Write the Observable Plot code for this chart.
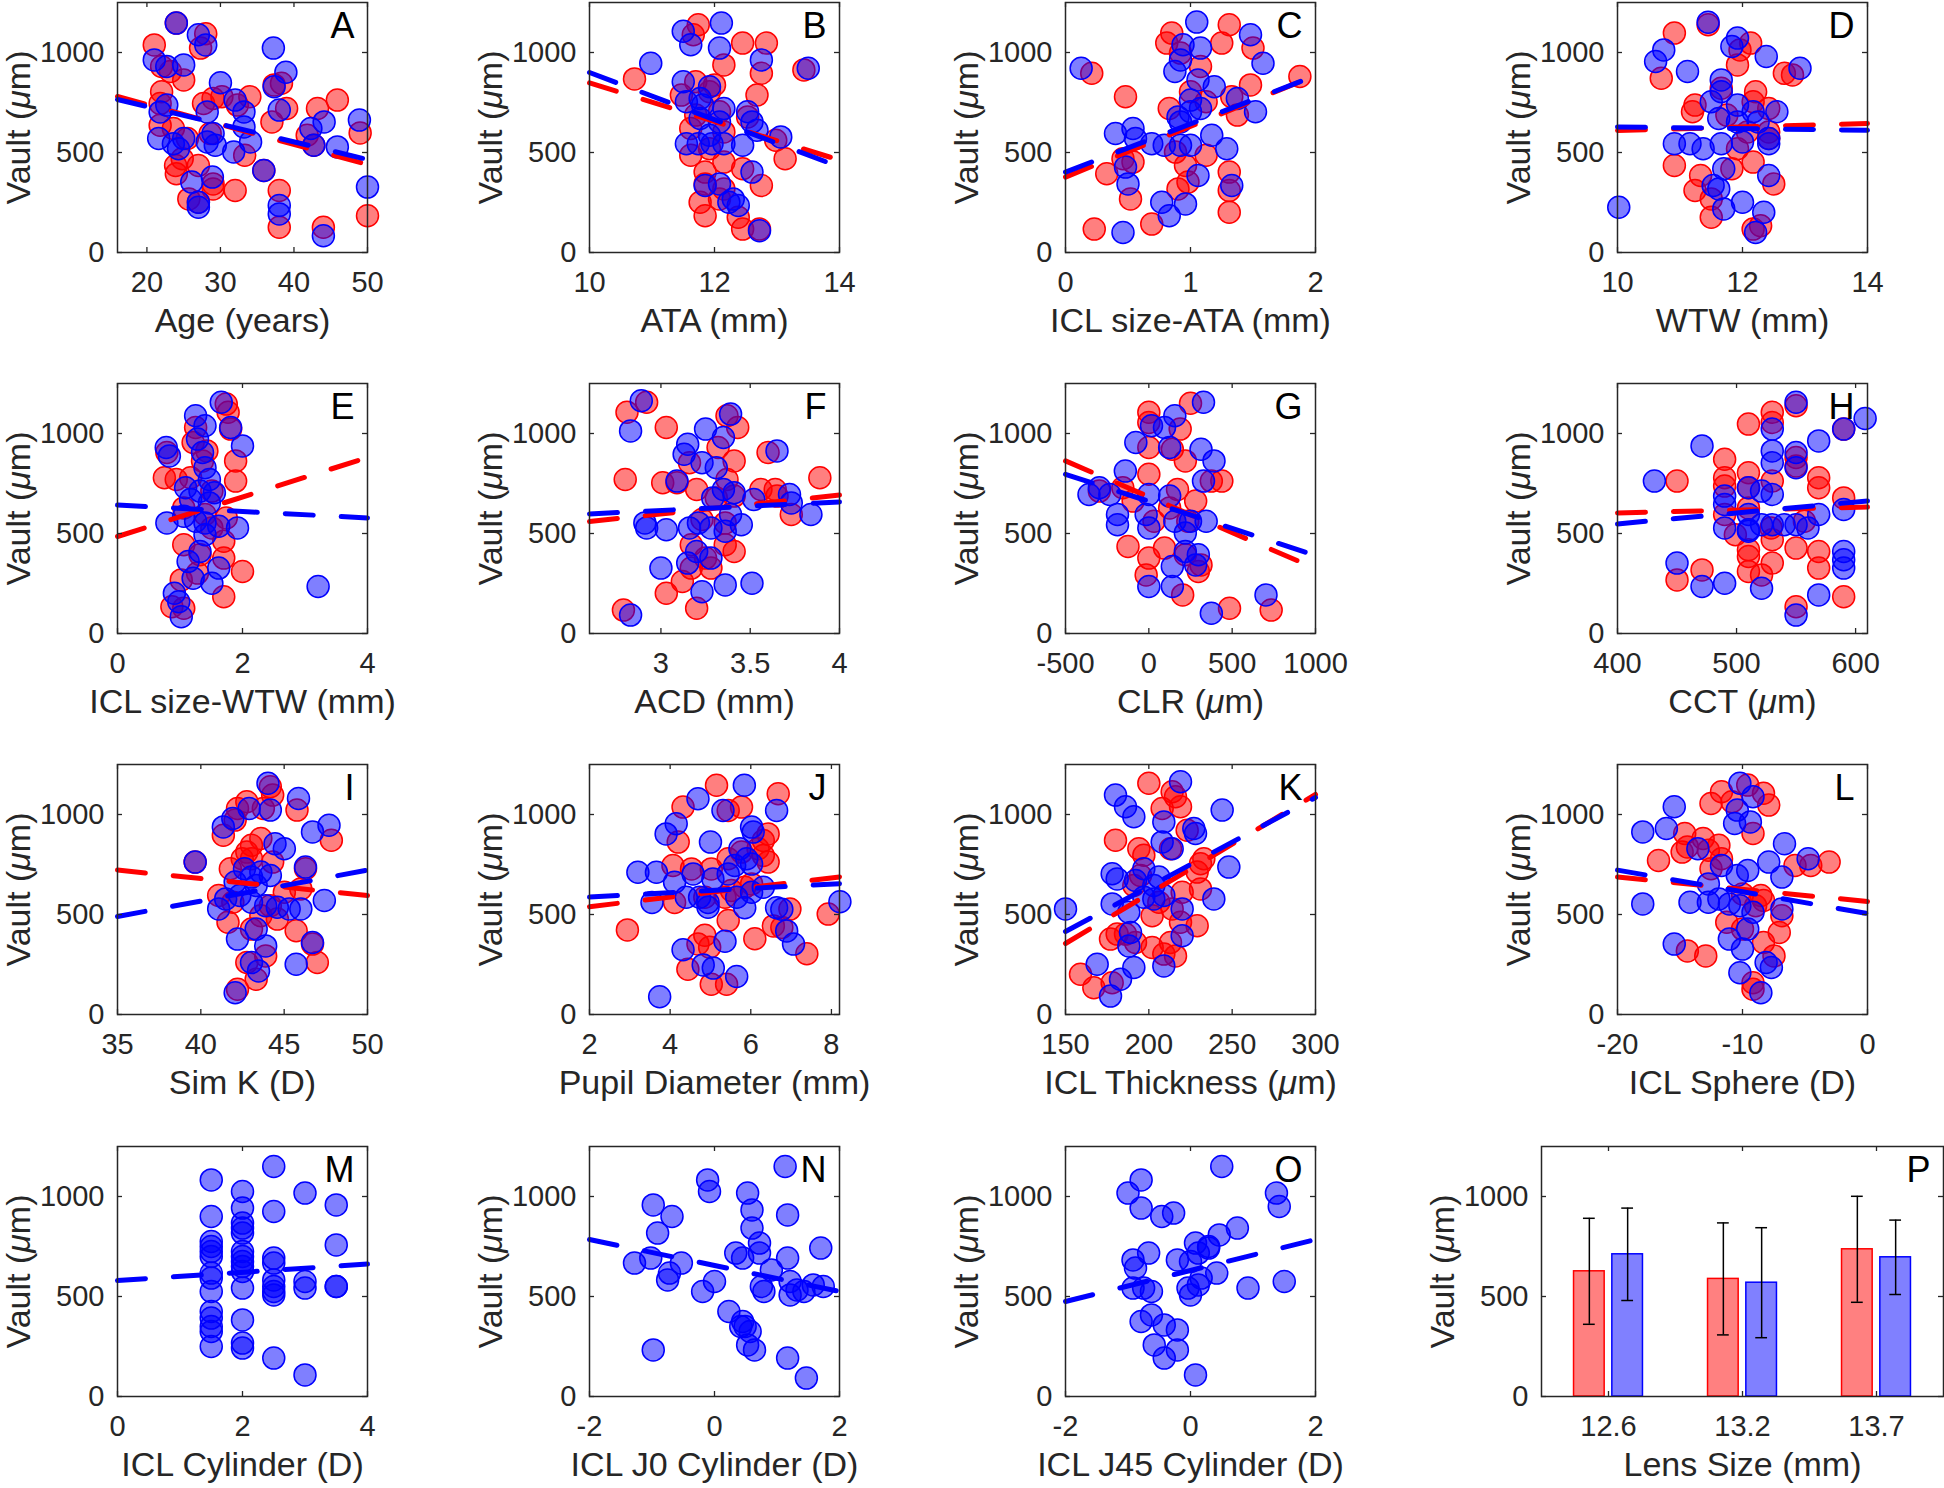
<!DOCTYPE html>
<html><head><meta charset="utf-8">
<script src="https://cdn.jsdelivr.net/npm/d3@7"></script>
<script src="https://cdn.jsdelivr.net/npm/@observablehq/plot@0.6"></script>
<style>
body{margin:0;background:#fff;}
#fig{position:relative;width:1944px;height:1488px;overflow:hidden;background:#fff;}
#fig svg{position:absolute;overflow:visible;background:transparent;}
</style></head><body><div id="fig"></div>
<script>
// ---------- DATA (Vault in µm vs. parameters; red = group 1, blue = group 2) ----------
const yTicks = [0, 500, 1000];

const ageRed = [[24,1147],[28,1094],[21,1038],[27.3,1022],[22,930],[23.2,905],[25,863],[22,804],[21.8,745],[29,770],[30.2,779],[34,779],[32.3,737],[27.7,745],[21.8,636],[23.6,620],[37.3,838],[38.3,846],[37,653],[39,720],[43.2,720],[45.9,762],[49,598],[41.8,586],[24.8,469],[23.9,435],[24,394],[27,435],[29,343],[29,318],[32,310],[25.7,268],[27,251],[33.3,486],[35.9,410],[38,310],[38,126],[44,126],[50,184],[42.7,536],[28.6,595],[25.5,570]];
const ageBlue = [[24,1147],[27,1089],[28,1038],[21,963],[22.7,930],[25,938],[30,849],[38.9,901],[37.2,1022],[37.3,829],[38,712],[32,762],[33.2,703],[33.2,628],[34.1,553],[31.8,503],[28.2,703],[29,595],[28.2,553],[29.3,536],[22.7,737],[21.8,703],[21.6,570],[23.6,544],[25,570],[24.3,519],[26.1,352],[28.9,377],[27,251],[27,226],[42.3,620],[44.1,653],[42.7,536],[45.9,528],[48.9,662],[50,327],[38,235],[38,193],[44,84],[35.9,410]];
const ageRedFit = [[16,780],[50,440]];
const ageBlueFit = [[16,765],[50,465]];

const ataRed = [[11.74,1139],[11.66,1089],[12.45,1047],[12.83,1047],[10.72,868],[12.15,938],[12.75,896],[11.7,854],[11.92,804],[12.68,787],[13.43,913],[11.7,687],[12.08,704],[11.62,620],[12.15,603],[12.98,561],[13.13,469],[11.92,519],[12.15,452],[11.85,402],[12.45,419],[12.75,335],[11.85,343],[12.15,318],[11.85,184],[12.45,117],[12.72,117],[12.38,176],[12.08,268],[11.62,486],[12.0,838],[11.47,787],[12.53,678],[11.77,251]];
const ataBlue = [[12.11,1147],[11.5,1106],[11.62,1039],[12.08,1022],[12.75,963],[10.98,946],[13.5,921],[11.5,854],[11.92,829],[11.55,754],[11.81,737],[12.15,720],[12.53,704],[12.6,653],[11.77,670],[12.08,653],[11.55,544],[11.74,544],[11.96,544],[12.15,544],[12.45,536],[13.06,578],[12.68,611],[11.85,335],[12.08,343],[12.6,402],[12.23,251],[12.38,235],[12.72,109],[12.3,268],[11.77,770],[11.92,586]];
const ataRedFit = [[10,848],[14,462]];
const ataBlueFit = [[10,900],[14,428]];

const sizeAtaRed = [[1.31,1139],[0.85,1097],[0.81,1047],[1.25,1047],[1.5,1022],[0.92,997],[0.21,896],[1.08,930],[1.875,880],[1.48,838],[0.48,779],[0.83,720],[1.0,804],[1.375,687],[1.33,779],[1.125,754],[0.46,469],[0.33,394],[0.54,452],[0.52,268],[0.9,318],[1.31,402],[1.31,310],[1.31,201],[0.96,435],[1.125,486],[0.23,117],[0.69,142],[0.98,352],[0.88,502]];
const sizeAtaBlue = [[1.05,1152],[1.48,1089],[0.94,1039],[1.08,1022],[1.58,946],[0.92,963],[0.875,905],[0.125,921],[1.06,863],[1.19,829],[1.0,762],[1.375,770],[1.52,704],[1.08,720],[0.9,678],[0.92,653],[0.4,595],[0.54,620],[0.56,570],[0.69,544],[0.79,536],[0.92,536],[1.0,536],[1.17,586],[1.29,519],[0.48,427],[0.5,343],[0.77,251],[0.83,184],[0.96,243],[1.06,385],[1.33,335],[0.46,100],[1.0,704]];
const sizeAtaRedFit = [[0,377],[2,885]];
const sizeAtaBlueFit = [[0,402],[2,884]];

const wtwRed = [[10.91,1097],[11.45,1139],[12.13,1047],[11.96,1013],[11.92,938],[12.67,896],[12.8,888],[10.7,871],[11.66,821],[12.21,804],[12.17,754],[12.42,720],[11.24,737],[11.2,704],[11.75,687],[12.42,603],[12.08,603],[10.91,435],[11.33,385],[11.24,310],[11.5,268],[11.5,176],[12.17,117],[12.29,134],[12.5,343],[12.17,452],[11.83,419],[12.42,570],[11.92,519]];
const wtwBlue = [[11.45,1151],[11.92,1072],[11.83,1030],[12.38,980],[12.92,921],[10.61,955],[10.74,1013],[11.12,905],[11.66,863],[11.66,804],[11.5,754],[11.92,737],[12.17,704],[12.55,704],[11.62,670],[11.92,653],[12.25,653],[10.91,544],[11.16,544],[11.37,519],[11.66,544],[12.0,553],[12.42,570],[12.42,544],[11.7,419],[11.53,335],[11.62,318],[12.0,251],[11.7,218],[12.34,201],[12.21,100],[10.02,226],[12.42,385]];
const wtwRedFit = [[10,610],[14,645]];
const wtwBlueFit = [[10,628],[14,611]];

const sizeWtwRed = [[1.74,1147],[1.77,1106],[1.25,1030],[1.81,1022],[1.21,955],[1.43,913],[0.79,905],[1.36,863],[1.89,863],[0.75,779],[0.94,770],[1.17,779],[1.89,762],[1.51,712],[1.06,628],[1.4,595],[1.74,578],[1.06,444],[1.7,461],[1.32,394],[1.7,377],[2.0,310],[1.02,268],[1.28,302],[1.7,184],[1.06,126],[0.87,134],[1.51,528]];
const sizeWtwBlue = [[1.66,1156],[1.25,1089],[1.4,1039],[1.81,1030],[1.28,972],[2.0,938],[0.78,930],[0.83,888],[1.36,905],[1.4,829],[1.47,770],[1.09,729],[1.32,712],[1.55,704],[1.17,670],[1.47,653],[0.79,553],[1.06,586],[1.25,561],[1.4,553],[1.62,536],[1.92,528],[1.4,494],[1.13,360],[1.32,410],[1.62,327],[1.21,276],[1.51,251],[0.91,201],[1.02,84],[3.21,235],[0.98,159]];
const sizeWtwRedFit = [[0,485],[4,880]];
const sizeWtwBlueFit = [[0,642],[4,578]];

const acdRed = [[2.92,1156],[2.81,1106],[3.03,1030],[3.43,1030],[3.37,1089],[3.41,863],[3.32,930],[3.6,905],[3.16,854],[2.8,770],[3.01,754],[3.09,754],[3.2,720],[3.37,770],[3.56,720],[3.64,720],[3.89,779],[3.65,687],[3.73,595],[3.23,570],[3.36,553],[3.17,444],[3.36,444],[3.41,410],[3.25,377],[3.17,327],[3.28,327],[3.12,260],[3.03,201],[3.2,126],[2.79,117],[3.41,687],[3.31,678]];
const acdBlue = [[2.89,1164],[2.83,1013],[3.25,1022],[3.39,1097],[3.35,980],[3.15,946],[3.13,896],[3.23,854],[3.31,829],[3.65,913],[3.09,762],[3.35,720],[3.41,704],[3.29,678],[3.52,670],[3.72,695],[3.73,653],[2.91,553],[2.92,528],[3.03,519],[3.16,528],[3.21,553],[3.28,528],[3.36,511],[3.45,544],[3.84,595],[3.2,410],[3.28,377],[3.0,327],[3.15,352],[3.23,209],[3.36,243],[3.51,251],[2.83,92],[3.39,595]];
const acdRedFit = [[2.6,560],[4,692]];
const acdBlueFit = [[2.6,598],[4,658]];

const clrRed = [[250,1151],[0,1106],[0,1055],[188,1022],[141,921],[0,930],[219,863],[438,762],[0,796],[-156,729],[172,720],[-94,662],[125,628],[281,662],[31,561],[234,561],[-125,435],[94,427],[0,377],[219,394],[-16,293],[297,310],[203,193],[484,126],[734,117],[-297,712],[375,762],[313,343]];
const clrBlue = [[328,1156],[156,1089],[16,1039],[94,1030],[-78,955],[125,930],[313,921],[391,863],[328,762],[-141,812],[-359,695],[-297,729],[-234,695],[0,695],[125,687],[-188,595],[-188,544],[-16,595],[0,528],[156,561],[250,561],[219,503],[344,561],[297,394],[141,335],[281,343],[0,235],[141,235],[703,193],[375,101],[219,410]];
const clrRedFit = [[-500,863],[1000,325]];
const clrBlueFit = [[-500,796],[1000,390]];

const cctRed = [[550,1139],[530,1106],[510,1047],[530,1055],[590,1022],[490,871],[450,762],[490,779],[510,804],[490,737],[510,729],[530,762],[550,880],[550,838],[569,779],[569,729],[590,678],[490,595],[510,628],[499,494],[510,419],[510,385],[530,469],[530,352],[510,310],[521,293],[550,427],[557,561],[569,410],[569,327],[471,318],[450,268],[590,184],[550,134],[529,528]];
const cctBlue = [[550,1156],[608,1075],[530,1022],[590,1022],[471,938],[530,913],[530,854],[550,905],[550,829],[569,963],[431,762],[510,729],[521,712],[530,695],[490,687],[490,645],[510,595],[590,620],[569,595],[490,528],[510,511],[521,544],[530,544],[540,544],[550,544],[560,528],[510,519],[450,352],[471,235],[490,251],[521,226],[569,193],[550,92],[590,410],[590,369],[590,327]];
const cctRedFit = [[400,603],[610,632]];
const cctBlueFit = [[400,548],[610,663]];

const simKRed = [[44.17,1139],[44.31,1097],[42.76,1064],[42.2,1030],[45.77,1022],[43.75,1030],[41.35,896],[42.06,972],[43.04,846],[43.6,880],[47.83,871],[42.76,812],[42.48,779],[44.31,762],[43.04,779],[41.77,729],[39.66,762],[46.0,628],[46.28,729],[45.01,611],[41.07,595],[41.63,461],[43.6,494],[44.59,477],[45.72,419],[43.04,427],[43.89,293],[46.99,260],[46.7,352],[42.76,260],[43.32,176],[42.2,126],[44.17,544],[41.92,561]];
const simKBlue = [[44.03,1156],[45.86,1080],[42.9,1030],[44.17,1022],[41.92,980],[41.35,938],[46.7,913],[47.69,946],[44.45,854],[45.01,829],[39.66,762],[46.28,737],[42.62,729],[43.6,712],[43.04,687],[42.06,662],[44.17,695],[43.32,645],[41.07,528],[41.49,578],[42.34,595],[43.04,561],[43.89,544],[44.59,536],[45.3,528],[46.0,528],[47.41,570],[42.2,377],[43.32,427],[43.89,343],[43.04,260],[43.46,218],[45.72,251],[46.7,360],[42.06,109]];
const simKRedFit = [[35,722],[50,595]];
const simKBlueFit = [[35,490],[50,722]];

const pupilRed = [[5.15,1146],[6.68,1104],[4.32,1037],[5.44,1020],[5.77,1037],[4.2,862],[6.43,903],[6.31,870],[4.07,745],[4.53,728],[5.02,728],[5.44,779],[5.77,812],[6.18,829],[6.43,762],[6.31,795],[4.11,560],[4.86,586],[5.36,586],[5.85,636],[6.02,653],[6.97,527],[7.92,502],[6.56,443],[6.77,435],[5.44,470],[2.94,423],[4.86,396],[4.69,353],[4.98,336],[4.44,226],[5.02,151],[5.4,151],[6.1,379],[7.39,304],[5.52,620]];
const pupilBlue = [[5.84,1146],[4.69,1079],[6.64,1020],[5.31,1020],[4.15,954],[3.9,903],[6.02,937],[6.06,912],[5.0,862],[5.73,829],[5.9,779],[6.02,752],[5.6,745],[3.2,711],[3.66,711],[4.57,703],[4.11,661],[5.06,678],[5.44,703],[6.31,636],[6.02,611],[3.55,560],[4.4,586],[4.73,586],[4.94,560],[4.94,536],[5.85,534],[5.65,586],[6.64,534],[6.77,526],[6.89,418],[7.06,352],[8.21,564],[5.36,366],[4.32,324],[4.82,248],[5.07,232],[5.65,190],[3.74,89]];
const pupilRedFit = [[2,539],[8.2,688]];
const pupilBlueFit = [[2,587],[8.2,654]];

const thickRed = [[200,1156],[214,1114],[219,1039],[208,1030],[216,1089],[180,871],[223,921],[194,829],[197,796],[213,829],[233,779],[231,754],[229,712],[231,628],[220,611],[195,695],[191,645],[206,561],[214,528],[202,494],[229,444],[219,461],[181,402],[177,377],[192,360],[202,335],[209,302],[216,293],[213,360],[159,201],[167,134],[178,159],[186,402]];
const thickBlue = [[219,1164],[180,1097],[186,1039],[191,989],[209,963],[244,1022],[228,905],[227,930],[214,829],[208,863],[248,737],[197,729],[178,704],[181,678],[192,670],[206,687],[203,645],[178,553],[188,511],[197,586],[203,578],[209,595],[220,528],[239,578],[150,528],[189,410],[188,343],[220,394],[191,235],[169,251],[183,176],[177,92],[209,243]];
const thickRedFit = [[150,355],[300,1100]];
const thickBlueFit = [[150,415],[300,1085]];

const sphereRed = [[-9.58,1147],[-8.32,1106],[-11.68,1114],[-12.52,1055],[-10.84,1064],[-7.9,1047],[-14.62,905],[-13.15,880],[-14.41,838],[-14.83,812],[-11.89,846],[-12.73,821],[-9.16,905],[-16.72,770],[-11.68,779],[-12.52,729],[-4.54,745],[-3.07,762],[-5.8,745],[-10,603],[-8.53,595],[-8.32,570],[-6.85,494],[-7.06,410],[-11.26,461],[-10,427],[-8.32,360],[-7.48,293],[-14.41,318],[-12.94,293],[-9.16,159],[-9.16,126],[-8.95,544]];
const sphereBlue = [[-10.21,1156],[-9.16,1089],[-10.42,1022],[-10.63,955],[-9.37,963],[-15.46,1039],[-16.09,930],[-17.98,913],[-13.57,829],[-6.64,854],[-4.75,779],[-7.9,762],[-11.68,745],[-9.58,720],[-10.42,695],[-6.85,687],[-12.73,653],[-17.98,553],[-14.2,561],[-12.73,561],[-11.89,578],[-11.05,553],[-10.21,544],[-9.16,511],[-6.85,528],[-15.46,352],[-11.05,377],[-10,327],[-9.58,427],[-10.21,209],[-8.11,260],[-7.69,235],[-8.53,109]];
const sphereRedFit = [[-20,687],[0,565]];
const sphereBlueFit = [[-20,722],[0,505]];

const cylBlue = [[1.5,1083],[1.5,900],[1.5,775],[1.5,750],[1.5,725],[1.5,700],[1.5,617],[1.5,592],[1.5,525],[1.5,425],[1.5,392],[1.5,350],[1.5,325],[1.5,250],[2,1025],[2,942],[2,867],[2,842],[2,817],[2,725],[2,700],[2,675],[2,650],[2,625],[2,542],[2,383],[2,267],[2,242],[2.5,1150],[2.5,925],[2.5,692],[2.5,667],[2.5,583],[2.5,550],[2.5,525],[2.5,508],[2.5,192],[3,1017],[3,575],[3,542],[3,108],[3.5,958],[3.5,758],[3.5,550],[3.5,550]];
const cylBlueFit = [[0,580],[4,662]];

const j0Blue = [[1.13,1150],[-0.11,1083],[-0.08,1025],[0.53,1017],[-0.98,958],[-0.68,900],[0.6,933],[1.17,908],[-0.91,817],[0.6,842],[0.72,767],[0.34,717],[0.72,717],[0.45,692],[1.7,742],[1.17,692],[-1.28,667],[-1.02,692],[-0.53,667],[-0.72,617],[-0.75,583],[0,575],[-0.19,525],[0.91,633],[0.75,550],[0.79,525],[1.21,575],[1.21,508],[1.43,525],[1.58,558],[1.74,550],[1.32,533],[0.23,425],[0.45,375],[0.49,350],[0.57,325],[0.53,258],[0.64,233],[1.17,192],[-0.98,233],[1.47,92],[0.42,350]];
const j0BlueFit = [[-2,785],[2,525]];

const j45Blue = [[0.5,1150],[-0.79,1083],[-1.0,1017],[1.375,1017],[1.42,950],[-0.79,942],[-0.46,900],[-0.27,917],[0.75,842],[0.46,808],[0.08,767],[0.29,742],[-0.67,717],[-0.92,683],[-0.88,642],[-0.21,683],[0,675],[0.125,717],[0.42,617],[0.17,592],[0.125,558],[-0.04,542],[0,508],[-0.92,542],[-0.75,542],[-0.625,525],[0.92,542],[1.5,575],[-0.625,408],[-0.79,375],[-0.42,358],[-0.21,333],[-0.58,258],[-0.42,192],[-0.21,233],[0.08,108],[0.29,750]];
const j45BlueFit = [[-2,475],[2,785]];

const lensSizes = ["12.6", "13.2", "13.7"];
const lensRedMean = [626, 588, 736];
const lensRedSd = [265, 280, 265];
const lensBlueMean = [711, 569, 696];
const lensBlueSd = [231, 275, 186];

// ---------- LAYOUT ----------
const FONT = '"Liberation Sans", Arial, Helvetica, sans-serif';
const INK = "#262626";
const BOXW = 250, BOXH = 250, PW = 402, TL = 5;
const ML = 140, MT = 10, MR = 12, MB = 110;
const colLeft = [117, 589, 1065, 1617];
const rowTop = [2, 383, 764, 1146];
const YLABEL = "Vault (μm)";
const TICK_FS = 29, LABEL_FS = 34, LETTER_FS = 36;

const panels = [
  {id: "A", red: ageRed, blue: ageBlue, redFit: ageRedFit, blueFit: ageBlueFit, domain: [16, 50], ticks: [20, 30, 40, 50], label: "Age (years)"},
  {id: "B", red: ataRed, blue: ataBlue, redFit: ataRedFit, blueFit: ataBlueFit, domain: [10, 14], ticks: [10, 12, 14], label: "ATA (mm)"},
  {id: "C", red: sizeAtaRed, blue: sizeAtaBlue, redFit: sizeAtaRedFit, blueFit: sizeAtaBlueFit, domain: [0, 2], ticks: [0, 1, 2], label: "ICL size-ATA (mm)"},
  {id: "D", red: wtwRed, blue: wtwBlue, redFit: wtwRedFit, blueFit: wtwBlueFit, domain: [10, 14], ticks: [10, 12, 14], label: "WTW (mm)"},
  {id: "E", red: sizeWtwRed, blue: sizeWtwBlue, redFit: sizeWtwRedFit, blueFit: sizeWtwBlueFit, domain: [0, 4], ticks: [0, 2, 4], label: "ICL size-WTW (mm)"},
  {id: "F", red: acdRed, blue: acdBlue, redFit: acdRedFit, blueFit: acdBlueFit, domain: [2.6, 4], ticks: [3, 3.5, 4], label: "ACD (mm)"},
  {id: "G", red: clrRed, blue: clrBlue, redFit: clrRedFit, blueFit: clrBlueFit, domain: [-500, 1000], ticks: [-500, 0, 500, 1000], label: "CLR (μm)"},
  {id: "H", red: cctRed, blue: cctBlue, redFit: cctRedFit, blueFit: cctBlueFit, domain: [400, 610], ticks: [400, 500, 600], label: "CCT (μm)"},
  {id: "I", red: simKRed, blue: simKBlue, redFit: simKRedFit, blueFit: simKBlueFit, domain: [35, 50], ticks: [35, 40, 45, 50], label: "Sim K (D)"},
  {id: "J", red: pupilRed, blue: pupilBlue, redFit: pupilRedFit, blueFit: pupilBlueFit, domain: [2, 8.2], ticks: [2, 4, 6, 8], label: "Pupil Diameter (mm)"},
  {id: "K", red: thickRed, blue: thickBlue, redFit: thickRedFit, blueFit: thickBlueFit, domain: [150, 300], ticks: [150, 200, 250, 300], label: "ICL Thickness (μm)"},
  {id: "L", red: sphereRed, blue: sphereBlue, redFit: sphereRedFit, blueFit: sphereBlueFit, domain: [-20, 0], ticks: [-20, -10, 0], label: "ICL Sphere (D)"},
  {id: "M", red: null, blue: cylBlue, redFit: null, blueFit: cylBlueFit, domain: [0, 4], ticks: [0, 2, 4], label: "ICL Cylinder (D)"},
  {id: "N", red: null, blue: j0Blue, redFit: null, blueFit: j0BlueFit, domain: [-2, 2], ticks: [-2, 0, 2], label: "ICL J0 Cylinder (D)"},
  {id: "O", red: null, blue: j45Blue, redFit: null, blueFit: j45BlueFit, domain: [-2, 2], ticks: [-2, 0, 2], label: "ICL J45 Cylinder (D)"}
];

const fig = document.getElementById("fig");
const plotStyle = {fontFamily: FONT, color: INK, background: "transparent", overflow: "visible"};

function frameMarks(w, xTicks, fmt, letter, xlabel) {
  return [
    Plot.tickY(yTicks, {y: d => d, insetRight: w - TL, stroke: INK, strokeWidth: 1.3}),
    Plot.tickY(yTicks, {y: d => d, insetLeft: w - TL, stroke: INK, strokeWidth: 1.3}),
    Plot.tickX(xTicks, {x: d => d, insetTop: BOXH - TL, stroke: INK, strokeWidth: 1.3}),
    Plot.tickX(xTicks, {x: d => d, insetBottom: BOXH - TL, stroke: INK, strokeWidth: 1.3}),
    Plot.frame({stroke: INK, strokeWidth: 1.5}),
    Plot.axisY(yTicks, {tickSize: 0, tickPadding: 13, fontSize: TICK_FS, label: null, tickFormat: d => String(d)}),
    Plot.axisX(xTicks, {tickSize: 0, tickPadding: 19, fontSize: TICK_FS, label: null, tickFormat: fmt}),
    Plot.text([xlabel], {text: d => d, frameAnchor: "bottom", dy: 55, lineAnchor: "top", textAnchor: "middle", fontSize: LABEL_FS, fill: INK}),
    Plot.text([YLABEL], {text: d => d, frameAnchor: "left", dx: -98, rotate: -90, textAnchor: "middle", lineAnchor: "middle", fontSize: LABEL_FS, fill: INK}),
    Plot.text([letter], {text: d => d, frameAnchor: "top-right", dx: -13, dy: 24, textAnchor: "end", lineAnchor: "middle", fontSize: LETTER_FS, fill: "black"})
  ];
}

function italicMu(svg) {
  svg.querySelectorAll("text, tspan").forEach(t => {
    if (t.children.length === 0 && t.textContent.includes("μ")) {
      const s = t.textContent, i = s.indexOf("μ");
      t.textContent = "";
      t.append(document.createTextNode(s.slice(0, i)));
      const ts = document.createElementNS("http://www.w3.org/2000/svg", "tspan");
      ts.setAttribute("font-style", "italic");
      ts.textContent = "μ";
      t.append(ts);
      t.append(document.createTextNode(s.slice(i + 1)));
    }
  });
}

function place(svg, left, top) {
  svg.style.position = "absolute";
  svg.style.left = left + "px";
  svg.style.top = top + "px";
  svg.style.maxWidth = "none";
  italicMu(svg);
  fig.appendChild(svg);
}

const dotOpts = (color) => ({x: d => d[0], y: d => d[1], r: 11, fill: color, fillOpacity: 0.5, stroke: color, strokeWidth: 1.5});
const lineOpts = (color) => ({x: d => d[0], y: d => d[1], stroke: color, strokeWidth: 5, strokeDasharray: "28,28"});

panels.forEach((p, k) => {
  const col = k % 4, row = Math.floor(k / 4);
  const marks = [];
  if (p.red) marks.push(Plot.dot(p.red, dotOpts("red")));
  marks.push(Plot.dot(p.blue, dotOpts("blue")));
  if (p.redFit) marks.push(Plot.line(p.redFit, lineOpts("red")));
  marks.push(Plot.line(p.blueFit, lineOpts("blue")));
  marks.push(...frameMarks(BOXW, p.ticks, d => String(d), p.id, p.label));
  const svg = Plot.plot({
    width: ML + BOXW + MR, height: MT + BOXH + MB,
    marginLeft: ML, marginRight: MR, marginTop: MT, marginBottom: MB,
    x: {domain: p.domain}, y: {domain: [0, 1250]},
    style: plotStyle,
    marks
  });
  place(svg, colLeft[col] - ML, rowTop[row] - MT);
});

// Panel P: grouped bars with SD error bars
const barRows = lensSizes.flatMap((s, i) => [
  {pos: i + 1, group: "red", mean: lensRedMean[i], sd: lensRedSd[i]},
  {pos: i + 1, group: "blue", mean: lensBlueMean[i], sd: lensBlueSd[i]}
]);
const OFF = {red: -0.1429, blue: 0.1429}, HALF = 0.1143, CAP = 0.044;
const cx = d => d.pos + OFF[d.group];
const pMarks = [
  Plot.rectY(barRows.filter(d => d.group === "red"), {x1: d => cx(d) - HALF, x2: d => cx(d) + HALF, y1: 0, y2: d => d.mean, fill: "#ff8080", stroke: "red", strokeWidth: 1.5}),
  Plot.rectY(barRows.filter(d => d.group === "blue"), {x1: d => cx(d) - HALF, x2: d => cx(d) + HALF, y1: 0, y2: d => d.mean, fill: "#8080ff", stroke: "blue", strokeWidth: 1.5}),
  Plot.ruleX(barRows, {x: cx, y1: d => d.mean - d.sd, y2: d => d.mean + d.sd, stroke: "black", strokeWidth: 1.5}),
  Plot.ruleY(barRows, {y: d => d.mean + d.sd, x1: d => cx(d) - CAP, x2: d => cx(d) + CAP, stroke: "black", strokeWidth: 1.5}),
  Plot.ruleY(barRows, {y: d => d.mean - d.sd, x1: d => cx(d) - CAP, x2: d => cx(d) + CAP, stroke: "black", strokeWidth: 1.5}),
  ...frameMarks(PW, [1, 2, 3], i => lensSizes[i - 1], "P", "Lens Size (mm)")
];
const pSvg = Plot.plot({
  width: ML + PW + MR, height: MT + BOXH + MB,
  marginLeft: ML, marginRight: MR, marginTop: MT, marginBottom: MB,
  x: {domain: [0.5, 3.5]}, y: {domain: [0, 1250]},
  style: plotStyle,
  marks: pMarks
});
place(pSvg, 1541 - ML, rowTop[3] - MT);
</script></body></html>
